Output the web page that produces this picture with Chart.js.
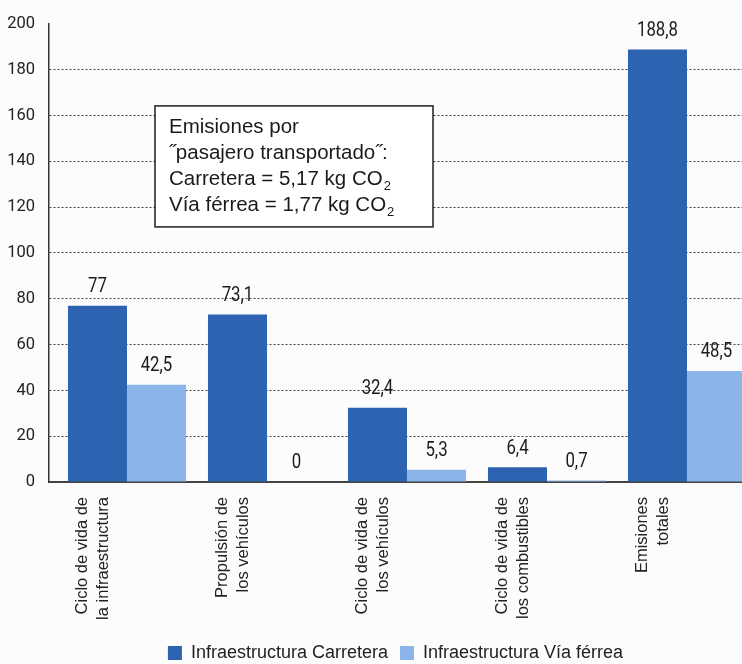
<!DOCTYPE html>
<html>
<head>
<meta charset="utf-8">
<script src="https://cdn.jsdelivr.net/npm/chart.js@4.4.1/dist/chart.umd.min.js"></script>
<style>
html,body{margin:0;padding:0;background:#fcfcfc;overflow:hidden}
#wrap{width:742px;height:664px;position:relative}
</style>
</head>
<body>
<div id="wrap"><canvas id="c" width="742" height="664"></canvas></div>
<script>
const categories = [
  ["Ciclo de vida de", "la infraestructura"],
  ["Propulsión de", "los vehículos"],
  ["Ciclo de vida de", "los vehículos"],
  ["Ciclo de vida de", "los combustibles"],
  ["Emisiones", "totales"]
];
const roadValues = [77, 73.1, 32.4, 6.4, 188.8];
const railValues = [42.5, 0, 5.3, 0.7, 48.5];
const seriesNames = ["Infraestructura Carretera", "Infraestructura Vía férrea"];
const yTickValues = [0, 20, 40, 60, 80, 100, 120, 140, 160, 180, 200];
const noteLines = [
  ["Emisiones por"],
  ["\u02DDpasajero transportado\u02DD:"],
  ["Carretera = 5,17 kg CO", "2"],
  ["Vía férrea = 1,77 kg CO", "2"]
];

const DARK = '#2d63b0';
const LIGHT = '#8bb4e8';

const toPoints = arr => arr.map((v, i) => ({ x: i, y: v }));

const valueLabels = {
  id: 'valueLabels',
  afterDatasetsDraw(chart) {
    const ctx = chart.ctx;
    chart.data.datasets.forEach((ds, di) => {
      chart.getDatasetMeta(di).data.forEach((bar, i) => {
        const v = ds.data[i].y;
        ctx.save();
        ctx.font = '21px Roboto';
        ctx.fillStyle = '#1b1b1b';
        ctx.textAlign = 'center';
        ctx.textBaseline = 'middle';
        ctx.translate(bar.x, bar.y - 19);
        ctx.scale(0.8, 1);
        ctx.fillText(String(v).replace('.', ','), 0, 0);
        ctx.restore();
      });
    });
  }
};

const noteBox = {
  id: 'noteBox',
  afterDraw(chart) {
    const { ctx, chartArea: a } = chart;
    const x = a.left + 106, y = a.top + 82, w = 278, h = 121;
    ctx.save();
    ctx.fillStyle = '#ffffff';
    ctx.fillRect(x, y, w, h);
    ctx.strokeStyle = '#1e1e1e';
    ctx.lineWidth = 1.5;
    ctx.strokeRect(x, y, w, h);
    ctx.fillStyle = '#1b1b1b';
    ctx.textBaseline = 'alphabetic';
    ctx.textAlign = 'left';
    noteLines.forEach((ln, i) => {
      const by = y + 27.5 + i * 25.7;
      ctx.font = '20.5px "Liberation Sans"';
      ctx.fillText(ln[0], x + 14, by);
      if (ln[1]) {
        const tw = ctx.measureText(ln[0]).width;
        ctx.font = '13px "Liberation Sans"';
        ctx.fillText(ln[1], x + 14 + tw + 1, by + 5);
      }
    });
    ctx.restore();
  }
};

new Chart(document.getElementById('c'), {
  type: 'bar',
  data: {
    datasets: [
      { label: seriesNames[0], data: toPoints(roadValues), backgroundColor: DARK, borderWidth: 0 },
      { label: seriesNames[1], data: toPoints(railValues), backgroundColor: LIGHT, borderWidth: 0 }
    ]
  },
  options: {
    responsive: false,
    animation: false,
    devicePixelRatio: 1,
    categoryPercentage: 0.843,
    barPercentage: 1,
    layout: { padding: { top: 20, left: 0, right: 0, bottom: -8 } },
    plugins: {
      tooltip: { enabled: false },
      legend: {
        position: 'bottom',
        fullSize: false,
        labels: {
          boxWidth: 14,
          boxHeight: 14,
          padding: 12,
          color: '#222',
          font: { family: '"Liberation Sans"', size: 18 }
        }
      }
    },
    scales: {
      x: {
        type: 'linear',
        offset: false,
        bounds: 'data',
        min: -0.557,
        max: 4.393,
        afterBuildTicks: s => { s.ticks = categories.map((c, i) => ({ value: i - 0.315 })); },
        afterFit: s => { s.height = 150; },
        grid: { display: false, drawTicks: false, offset: false },
        border: { display: true, color: '#444', width: 2 },
        ticks: {
          autoSkip: false,
          minRotation: 90,
          maxRotation: 90,
          padding: 15,
          color: '#222',
          font: { family: '"Liberation Sans"', size: 16.5, lineHeight: 1.27 },
          callback: (v, idx) => categories[idx]
        }
      },
      y: {
        min: 0,
        max: 200,
        afterBuildTicks: s => { s.ticks = yTickValues.map(v => ({ value: v })); },
        afterFit: s => { s.width = 49; },
        grid: {
          drawTicks: false,
          lineWidth: 1,
          color: c => (c.tick && (c.tick.value === 0 || c.tick.value === 200)) ? 'rgba(0,0,0,0)' : '#444'
        },
        border: { display: true, color: '#333', width: 1.5, dash: [2, 2] },
        ticks: {
          padding: 14,
          color: '#222',
          font: { family: 'Roboto', size: 16.5 }
        }
      }
    }
  },
  plugins: [valueLabels, noteBox]
});
</script>
</body>
</html>
